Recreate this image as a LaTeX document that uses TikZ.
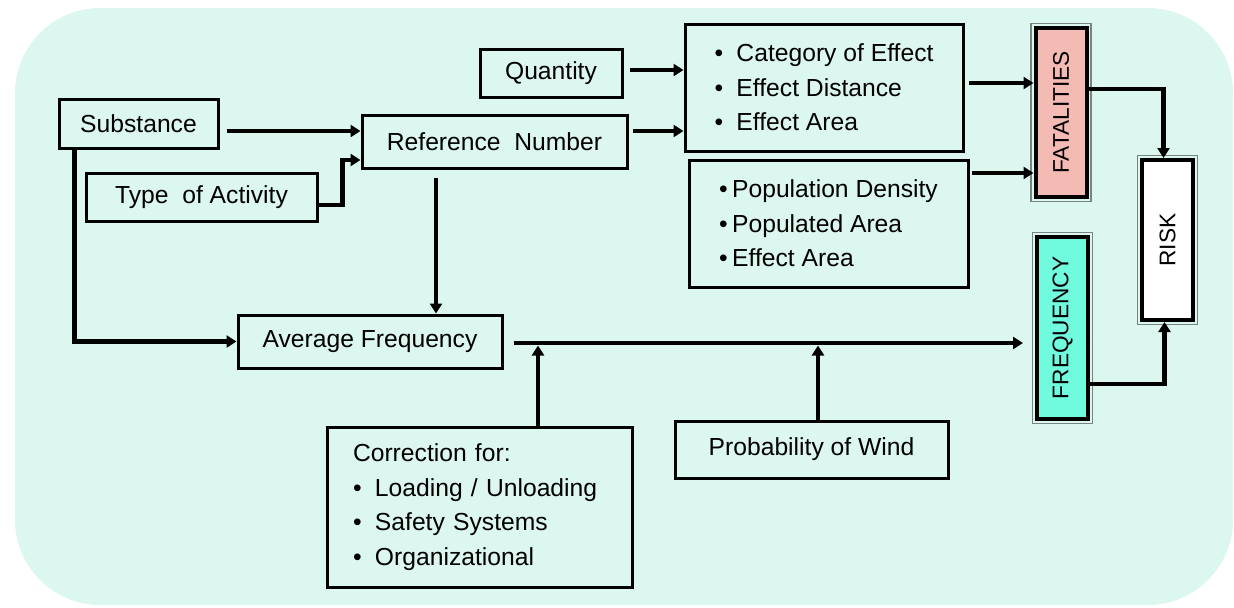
\documentclass[tikz,border=0pt]{standalone}
\usepackage{fontspec}
\setmainfont{Liberation Sans}
\usepackage{graphicx}
\usetikzlibrary{arrows.meta,calc}

\definecolor{bgmint}{RGB}{220,247,240}
\definecolor{fatpink}{RGB}{244,186,180}
\definecolor{freqaqua}{RGB}{112,250,222}
\definecolor{rimgray}{RGB}{120,132,128}

\begin{document}
\begin{tikzpicture}[x=0.75pt,y=-0.75pt,
  every node/.style={font=\fontsize{18.5}{26}\selectfont, inner sep=0pt},
  box/.style={draw=black, line width=2.25pt},
  keybox/.style={draw=black, line width=3pt, font=\fontsize{17}{20}\selectfont},
  rim/.style={draw=rimgray, line width=0.8pt},
  arr/.style={line width=3.5pt, -{Triangle[length=7.5pt,width=9pt]}},
]
\useasboundingbox (0,0) rectangle (1234,607);

% rounded backdrop
\fill[bgmint, rounded corners=64pt] (15,8) rectangle (1233,605);

% input boxes
\node[box, minimum width=119.25pt, minimum height=36.75pt] (sub) at (138.5,123.5) {Substance};
\node[box, minimum width=173.25pt, minimum height=36pt] (act) at (201.5,197) {Type\ \ of Activity};
\node[box, minimum width=198.75pt, minimum height=39.75pt] (ref) at (494.5,141.5) {Reference\ \ Number};
\node[box, minimum width=106.5pt, minimum height=36pt] (qty) at (551,73) {Quantity};

% effect and population lists
\node[box, minimum width=208.5pt, minimum height=95.25pt, align=left] (eff) at (824,87.5)
  {\makebox[16.5pt][l]{•}Category of Effect\\
   \makebox[16.5pt][l]{•}Effect Distance\\
   \makebox[16.5pt][l]{•}Effect Area};
\node[box, minimum width=209.25pt, minimum height=95.25pt, align=left] (pop) at (828.5,223.5)
  {\makebox[9.75pt][l]{•}Population Density\\
   \makebox[9.75pt][l]{•}Populated Area\\
   \makebox[9.75pt][l]{•}Effect Area};

% frequency chain
\node[box, minimum width=198pt, minimum height=39.75pt] (avg) at (370,341.5) {Average Frequency};
\node[box, minimum width=228.75pt, minimum height=120pt, text width=189.75pt, align=left] (cor) at (479.5,507)
  {Correction for:\\
   \makebox[16.5pt][l]{•}Loading / Unloading\\
   \makebox[16.5pt][l]{•}Safety Systems\\
   \makebox[16.5pt][l]{•}Organizational};
\node[box, minimum width=204.75pt, minimum height=42.75pt] (wind) at (811.5,449.5) {Probability of Wind};

% result boxes
\node[keybox, fill=fatpink, minimum width=38.25pt, minimum height=126.75pt] (fat) at (1061,112.5) {\rotatebox{90}{FATALITIES}};
\node[keybox, fill=freqaqua, minimum width=38.25pt, minimum height=136.5pt] (freq) at (1062.5,328) {\rotatebox{90}{FREQUENCY}};
\node[keybox, fill=white, minimum width=38.25pt, minimum height=120pt] (risk) at (1167.5,240) {\rotatebox{90}{RISK}};
\foreach \n in {fat,freq,risk}
  \draw[rim] ($(\n.north west)+(-2.5,-2.5)$) rectangle ($(\n.south east)+(2.5,2.5)$);

% connectors into the reference number
\draw[arr] ($(sub.east)+(7,7.5)$) -- ($(ref.west)+(0,-10.5)$);
\draw[arr] ($(act.east)+(0,8)$) -- ++(24,0) |- ($(ref.west)+(0,18.5)$);

% connectors into the average frequency
\draw[arr] ($(sub.south west)+(17,0)$) |- (avg.west);
\coordinate (refdown) at ($(ref.south west)+(75.5,8)$);
\draw[arr] (refdown) -- (refdown |- avg.north);

% connectors into the effect list
\coordinate (qtyA) at ($(qty.east)+(6,-3)$);
\draw[arr] (qtyA) -- (qtyA -| eff.west);
\coordinate (refA) at ($(ref.east)+(4,-10.5)$);
\draw[arr] (refA) -- (refA -| eff.west);

% connectors into fatalities
\coordinate (effA) at ($(eff.east)+(4,-4.5)$);
\draw[arr] (effA) -- (effA -| fat.west);
\coordinate (popA) at ($(pop.east)+(2,-50.5)$);
\draw[arr] (popA) -- (popA -| fat.west);

% main frequency line and its corrections
\coordinate (mainA) at ($(avg.east)+(10,1.5)$);
\coordinate (mainB) at ($(freq.west |- mainA)+(-12,0)$);
\draw[arr] (mainA) -- (mainB);
\coordinate (corA) at ($(cor.north)+(58.5,0)$);
\draw[arr] (corA) -- ($(corA |- mainA)+(0,2.5)$);
\coordinate (windA) at ($(wind.north)+(6.5,0)$);
\draw[arr] (windA) -- ($(windA |- mainA)+(0,2.5)$);

% into risk
\draw[arr] ($(fat.east)+(0,-23.5)$) -| ($(risk.north)+(-4,0)$);
\draw[arr] ($(freq.east)+(0,56)$) -| ($(risk.south)+(-3,0)$);
\end{tikzpicture}
\end{document}
